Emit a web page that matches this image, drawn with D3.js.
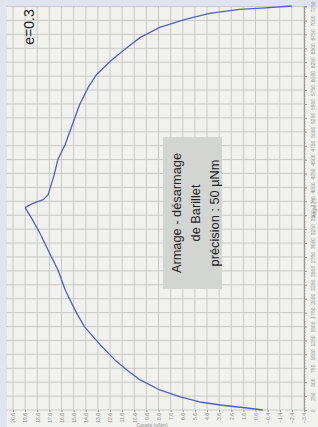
<!DOCTYPE html>
<html>
<head>
<meta charset="utf-8">
<script src="https://cdn.jsdelivr.net/npm/d3@7"></script>
<style>
  body { margin: 0; background: #dfe4ef; }
  svg { display: block; font-family: "Liberation Sans", Arial, sans-serif; }
</style>
</head>
<body>
<svg id="chart" width="318" height="427"></svg>
<script>
// armage (winding) : angle (°) -> couple (µNm)
var armageAngle  = [0, 36, 90, 144, 234, 360, 540, 684, 900, 1170, 1494, 1800, 2160, 2520, 2826, 3186, 3420, 3636];
var armageCouple = [0, 1.3, 3.5, 5.2, 6.8, 8.5, 10.1, 11.0, 12.2, 13.4, 14.7, 15.5, 16.3, 16.9, 17.6, 18.4, 19.0, 19.6];

// désarmage (unwinding)
var desarmageAngle  = [3636, 3708, 3780, 3870, 4014, 4230, 4500, 4770, 5130, 5490, 5796, 6030, 6264, 6480, 6696, 6876, 7020, 7128, 7200, 7227, 7260];
var desarmageCouple = [19.6, 19.0, 18.1, 17.7, 17.5, 17.2, 16.9, 16.3, 15.7, 15.1, 14.4, 13.7, 12.6, 11.4, 10.1, 8.5, 6.4, 4.4, 1.9, -0.2, -2.4];

// tick labels
var coupleTicks = [20.6, 19.6, 18.6, 17.6, 16.6, 15.6, 14.6, 13.6, 12.6, 11.6, 10.6, 9.6, 8.6, 7.6, 6.6, 5.6, 4.6, 3.6, 2.6, 1.6, 0.6, -0.4, -1.4, -2.4, -3.4];
var angleTicks = [0, 250, 500, 750, 1000, 1250, 1500, 1750, 2000, 2250, 2500, 2750, 3000, 3250, 3500, 3750, 4000, 4250, 4500, 4750, 5000, 5250, 5500, 5750, 6000, 6250, 6500, 6750, 7000, 7250];

var svg = d3.select('#chart');

// the whole picture is turned a quarter: couple runs right->left, angle bottom->top
var x = d3.scaleLinear().domain([20.6, -3.4]).range([13, 304]);
var y = d3.scaleLinear().domain([0, 7260]).range([410, 6]);

// outer frame + paper
svg.append('rect').attr('width', 318).attr('height', 427).attr('fill', '#dfe4ef');
svg.append('rect').attr('x', 7).attr('y', 7).attr('width', 311).attr('height', 420).attr('fill', '#f1f2ee');

// grid
svg.append('g').selectAll('line')
    .data(coupleTicks)
    .enter().append('line')
    .attr('x1', (d) => x(d)).attr('x2', (d) => x(d))
    .attr('y1', 7).attr('y2', 410)
    .attr('stroke', '#c8c9c5').attr('stroke-width', 1);

svg.append('g').selectAll('line')
    .data(angleTicks)
    .enter().append('line')
    .attr('x1', 7).attr('x2', 304)
    .attr('y1', (d) => y(d)).attr('y2', (d) => y(d))
    .attr('stroke', '#c8c9c5').attr('stroke-width', 1);

// angle axis (right side)
var aAxis = svg.append('g')
    .attr('transform', 'translate(304,0)')
    .call(d3.axisRight(y).tickValues(angleTicks).tickSize(3).tickFormat(d3.format('d')));
aAxis.select('.domain').attr('stroke', '#9a9a9a');
aAxis.selectAll('.tick line').attr('stroke', '#9a9a9a');
aAxis.selectAll('text')
    .attr('x', 0).attr('dy', '0.35em')
    .attr('transform', 'translate(9,0) rotate(-90)')
    .style('text-anchor', 'middle')
    .attr('fill', '#8a8a8a').style('font-size', '5px');

// minor ticks on the angle axis
var mAxis = svg.append('g')
    .attr('transform', 'translate(304,0)')
    .call(d3.axisRight(y).tickValues(d3.range(0, 7260, 50)).tickSize(1.5).tickFormat(''));
mAxis.select('.domain').remove();
mAxis.selectAll('.tick line').attr('stroke', '#9a9a9a');

// couple axis (bottom)
var cAxis = svg.append('g')
    .attr('transform', 'translate(0,410)')
    .call(d3.axisBottom(x).tickValues(coupleTicks).tickSize(2).tickFormat(d3.format('.1f')));
cAxis.select('.domain').remove();
cAxis.selectAll('.tick line').attr('stroke', '#9a9a9a');
cAxis.selectAll('text')
    .attr('y', 0).attr('x', 0).attr('dy', '0.35em')
    .attr('transform', 'translate(0,3) rotate(-90)')
    .style('text-anchor', 'end')
    .attr('fill', '#8a8a8a').style('font-size', '5px');

// axis titles
svg.append('text')
    .attr('transform', 'translate(316,208) rotate(-90)')
    .style('text-anchor', 'middle').style('font-size', '5px')
    .attr('fill', '#8a8a8a').text('Angle (°)');
svg.append('text')
    .attr('x', 152).attr('y', 427)
    .style('text-anchor', 'middle').style('font-size', '5px')
    .attr('fill', '#8a8a8a').text('Couple (µNm)');

// curves
var line = d3.line()
    .x((d) => x(d.c))
    .y((d) => y(d.a));

var armage = armageAngle.map((a, i) => ({ a: a, c: armageCouple[i] }));
var desarmage = desarmageAngle.map((a, i) => ({ a: a, c: desarmageCouple[i] }));

[armage, desarmage].forEach((s) => {
    svg.append('path')
        .datum(s)
        .attr('d', line)
        .attr('fill', 'none')
        .attr('stroke', '#4f60c4')
        .attr('stroke-width', 1.3)
        .attr('stroke-linejoin', 'round');
});

// e=0.3 label
svg.append('text')
    .attr('transform', 'translate(34,27) rotate(-90)')
    .style('text-anchor', 'middle').style('font-size', '14px')
    .attr('fill', '#1a1a1a').text('e=0.3');

// note box
svg.append('rect')
    .attr('x', 163).attr('y', 137).attr('width', 59).attr('height', 152)
    .attr('fill', '#d3d5d2');

var note = ['Armage - désarmage', 'de Barillet', 'précision : 50 µNm'];
svg.append('g').selectAll('text')
    .data(note)
    .enter().append('text')
    .attr('transform', (d, i) => `translate(${181 + i * 19},213) rotate(-90)`)
    .style('text-anchor', 'middle').style('font-size', '12.8px')
    .attr('fill', '#222')
    .text((d) => d);
</script>
</body>
</html>
